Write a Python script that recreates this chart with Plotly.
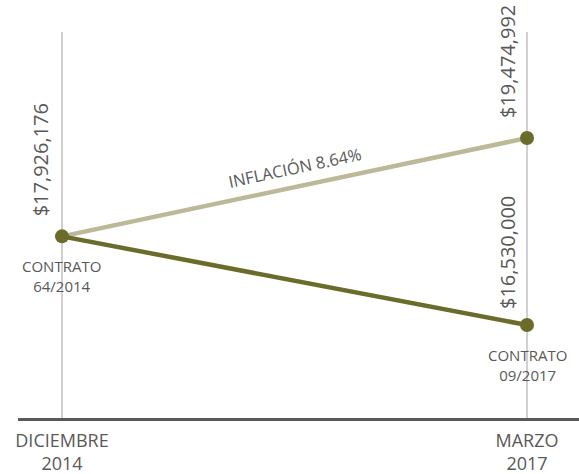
import plotly.graph_objects as go

categories = ["DICIEMBRE<br>2014", "MARZO<br>2017"]
x_pos = [0, 1]
inflacion_values = [17926176, 19474992]
contrato_values = [17926176, 16530000]
contrato_labels = ["CONTRATO<br>64/2014", "CONTRATO<br>09/2017"]
inflacion_label = "INFLACIÓN 8.64%"

LIGHT = "#bdb897"
DARK = "#6b6b2a"
GRAY = "#595959"
FONT = "Open Sans"

fig = go.Figure()
fig.add_trace(go.Scatter(x=x_pos, y=inflacion_values, mode="lines",
                         line=dict(color=LIGHT, width=4.5), hoverinfo="skip"))
fig.add_trace(go.Scatter(x=x_pos, y=contrato_values, mode="lines",
                         line=dict(color=DARK, width=4.5), hoverinfo="skip"))
fig.add_trace(go.Scatter(x=[x_pos[0], x_pos[1], x_pos[1]],
                         y=[inflacion_values[0], inflacion_values[1], contrato_values[1]],
                         mode="markers", marker=dict(color=DARK, size=14), hoverinfo="skip"))

def money(v):
    return "${:,}".format(v)

ann = []
ann.append(dict(x=x_pos[0], y=inflacion_values[0], text=money(inflacion_values[0]), textangle=-90,
                xanchor="right", yanchor="bottom", xshift=-6, yshift=18, showarrow=False,
                font=dict(family=FONT, size=20, color=GRAY)))
ann.append(dict(x=x_pos[1], y=inflacion_values[1], text=money(inflacion_values[1]), textangle=-90,
                xanchor="right", yanchor="bottom", xshift=-4, yshift=18, showarrow=False,
                font=dict(family=FONT, size=20, color=GRAY)))
ann.append(dict(x=x_pos[1], y=contrato_values[1], text=money(contrato_values[1]), textangle=-90,
                xanchor="right", yanchor="bottom", xshift=-4, yshift=14, showarrow=False,
                font=dict(family=FONT, size=20, color=GRAY)))
for xp, yv, lab in zip(x_pos, contrato_values, contrato_labels):
    ann.append(dict(x=xp, y=yv, text=lab, xanchor="center", yanchor="top", yshift=-18,
                    showarrow=False, font=dict(family=FONT, size=15, color=GRAY)))
ann.append(dict(x=0.5, y=(inflacion_values[0] + inflacion_values[1]) / 2, text=inflacion_label,
                textangle=-12, showarrow=False, yshift=20,
                font=dict(family=FONT, size=16.5, color=GRAY)))

fig.update_layout(
    width=579, height=474,
    margin=dict(l=18, r=0, t=32, b=56),
    plot_bgcolor="white", paper_bgcolor="white",
    showlegend=False,
    annotations=ann,
    xaxis=dict(range=[-0.0946, 1.1118], tickvals=x_pos, ticktext=categories,
               showgrid=True, gridcolor="#d0d0d0", gridwidth=2,
               showline=True, linecolor=GRAY, linewidth=3, zeroline=False,
               ticks="", ticklabelstandoff=4, automargin=False,
               tickfont=dict(family=FONT, size=18, color=GRAY)),
    yaxis=dict(range=[15065343, 21144386], visible=False, showgrid=False, zeroline=False,
               automargin=False),
)

fig.write_html("out.html", config={"displayModeBar": False},
               post_script="document.body.style.margin='0';")
